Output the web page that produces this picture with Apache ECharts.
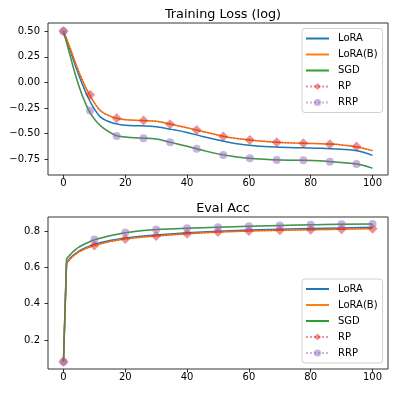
<!DOCTYPE html>
<html>
<head>
<meta charset="utf-8">
<script src="https://cdn.jsdelivr.net/npm/echarts@6/dist/echarts.min.js"></script>
<style>
  html, body { margin: 0; padding: 0; background: #fff; }
  #chart { width: 395px; height: 395px; }
</style>
</head>
<body>
<div id="chart"></div>
<script>
// training loss (log)
const lossX = [0, 2, 4, 6, 8, 10, 12, 14, 17, 20, 25, 30, 35, 40, 45, 50, 55, 60, 65, 70, 75, 80, 85, 90, 95, 100];
const lossLoRA = [0.5, 0.33, 0.15, -0.01, -0.15, -0.26, -0.34, -0.375, -0.405, -0.42, -0.425, -0.435, -0.46, -0.49, -0.53, -0.565, -0.595, -0.615, -0.628, -0.635, -0.64, -0.642, -0.648, -0.655, -0.67, -0.715];
const lossLoRAB = [0.5, 0.35, 0.18, 0.03, -0.1, -0.2, -0.28, -0.315, -0.35, -0.365, -0.373, -0.38, -0.41, -0.445, -0.48, -0.515, -0.545, -0.563, -0.577, -0.588, -0.594, -0.598, -0.603, -0.612, -0.632, -0.668];
const lossSGD = [0.5, 0.28, 0.06, -0.12, -0.265, -0.36, -0.425, -0.47, -0.52, -0.535, -0.545, -0.555, -0.59, -0.625, -0.665, -0.7, -0.725, -0.742, -0.753, -0.76, -0.762, -0.765, -0.772, -0.785, -0.8, -0.84];
// RP / RRP: dotted lines with markers at lossMarkX
const lossMarkX = [0, 8.6, 17.2, 25.9, 34.5, 43.1, 51.7, 60.3, 69, 77.6, 86.2, 94.8];
const lossMX = [0, 2, 4, 6, 8.6, 11, 14, 17.2, 21, 25.9, 30, 34.5, 38.5, 43.1, 47, 51.7, 56, 60.3, 65, 69, 73, 77.6, 82, 86.2, 90, 94.8, 100];
const lossRP = [0.5, 0.35, 0.18, 0.03, -0.121, -0.24, -0.315, -0.35, -0.367, -0.374, -0.38, -0.41, -0.435, -0.465, -0.495, -0.53, -0.55, -0.563, -0.577, -0.586, -0.592, -0.596, -0.6, -0.605, -0.612, -0.629, -0.668];
const lossRRP = [0.5, 0.28, 0.06, -0.12, -0.275, -0.395, -0.47, -0.524, -0.538, -0.547, -0.555, -0.586, -0.615, -0.651, -0.68, -0.71, -0.728, -0.742, -0.753, -0.76, -0.761, -0.762, -0.766, -0.776, -0.785, -0.8, -0.84];

// eval accuracy
const accX = [0, 1, 2, 3, 5, 7, 10, 15, 20, 25, 30, 40, 50, 60, 70, 80, 90, 100];
const accLoRA = [0.081, 0.625, 0.648, 0.665, 0.69, 0.707, 0.728, 0.748, 0.762, 0.771, 0.778, 0.79, 0.799, 0.805, 0.81, 0.814, 0.817, 0.82];
const accLoRAB = [0.081, 0.621, 0.643, 0.66, 0.685, 0.702, 0.722, 0.742, 0.757, 0.766, 0.773, 0.785, 0.794, 0.8, 0.804, 0.807, 0.81, 0.814];
const accSGD = [0.081, 0.648, 0.667, 0.685, 0.712, 0.73, 0.752, 0.774, 0.79, 0.802, 0.808, 0.815, 0.821, 0.826, 0.83, 0.834, 0.837, 0.839];
const accMarkX = [0, 10, 20, 30, 40, 50, 60, 70, 80, 90, 100];
const accRP = [0.081, 0.621, 0.643, 0.66, 0.685, 0.702, 0.72, 0.742, 0.756, 0.766, 0.773, 0.785, 0.794, 0.8, 0.804, 0.807, 0.81, 0.813];
const accRRP = [0.081, 0.648, 0.667, 0.685, 0.712, 0.73, 0.753, 0.774, 0.792, 0.802, 0.808, 0.815, 0.821, 0.826, 0.83, 0.834, 0.837, 0.839];

const xTicks = [0, 20, 40, 60, 80, 100];
const lossTicks = [-0.75, -0.5, -0.25, 0, 0.25, 0.5];
const accTicks = [0.2, 0.4, 0.6, 0.8];

const FONT = "DejaVu Sans";
const pair = (xs, ys) => xs.map((x, i) => [x, ys[i]]);
const minus = s => s.replace("-", "\u2212");
// marker only where x is in the marker list
const marked = (xs, ys, marks) => xs.map((x, i) =>
  marks.includes(x) ? [x, ys[i]] : { value: [x, ys[i]], symbol: "none" });

function xAxisCfg(idx) {
  return {
    type: "value", gridIndex: idx, min: -5, max: 105,
    axisLine: { show: false, onZero: false },
    axisTick: { show: true, length: 3.5, customValues: xTicks, lineStyle: { color: "#000", width: 0.8 } },
    axisLabel: { customValues: xTicks, color: "#000", fontSize: 10, fontFamily: FONT, margin: 3 },
    splitLine: { show: false }
  };
}
function yAxisCfg(idx, min, max, ticks, digits) {
  return {
    type: "value", gridIndex: idx, min: min, max: max,
    axisLine: { show: false, onZero: false },
    axisTick: { show: true, length: 3.5, customValues: ticks, lineStyle: { color: "#000", width: 0.8 } },
    axisLabel: {
      customValues: ticks, color: "#000", fontSize: 10, fontFamily: FONT, margin: 8,
      formatter: v => minus(v.toFixed(digits))
    },
    splitLine: { show: false }
  };
}
function lineSeries(name, idx, data, color, smooth) {
  return {
    name: name, type: "line", xAxisIndex: idx, yAxisIndex: idx,
    data: data, smooth: smooth, showSymbol: false, symbol: "none",
    lineStyle: { color: color, width: 1.5 }, itemStyle: { color: color },
    animation: false
  };
}
function markSeries(name, idx, data, color, symbol, size, smooth) {
  return {
    name: name, type: "line", xAxisIndex: idx, yAxisIndex: idx,
    data: data, smooth: smooth, symbol: symbol, symbolSize: size, showSymbol: true,
    lineStyle: { color: color, width: 1.5, type: "dotted", opacity: 0.5 },
    itemStyle: { color: color, opacity: 0.5 },
    animation: false
  };
}
function legendCfg(top) {
  // plain lines get no marker in the legend
  const noMark = { opacity: 0 };
  return {
    data: [
      { name: "LoRA", itemStyle: noMark },
      { name: "LoRA(B)", itemStyle: noMark },
      { name: "SGD", itemStyle: noMark },
      { name: "RP" },
      { name: "RRP" }
    ],
    orient: "vertical", left: 302, top: top,
    itemWidth: 23, itemHeight: 9, itemGap: 4,
    padding: [4, 5, 4, 3],
    borderColor: "#d0d0d0", borderWidth: 1, borderRadius: 3,
    backgroundColor: "rgba(255,255,255,0.8)",
    textStyle: { color: "#000", fontSize: 10, fontFamily: FONT, lineHeight: 12, padding: [0, 0, 0, 4] },
    selectedMode: false
  };
}

const chart = echarts.init(document.getElementById("chart"), null, { renderer: "canvas" });
const option = {
  backgroundColor: "#fff",
  animation: false,
  title: [
    { text: "Training Loss (log)", left: 218, top: 3, textAlign: "center",
      textStyle: { fontSize: 12.8, fontWeight: "normal", color: "#000", fontFamily: FONT } },
    { text: "Eval Acc", left: 218, top: 197, textAlign: "center",
      textStyle: { fontSize: 12.8, fontWeight: "normal", color: "#000", fontFamily: FONT } }
  ],
  grid: [
    { left: 48, top: 23, width: 340, height: 152, show: true, borderColor: "#000", borderWidth: 0.8, backgroundColor: "transparent" },
    { left: 48, top: 217, width: 340, height: 152, show: true, borderColor: "#000", borderWidth: 0.8, backgroundColor: "transparent" }
  ],
  legend: [legendCfg(28.5), legendCfg(279)],
  xAxis: [xAxisCfg(0), xAxisCfg(1)],
  yAxis: [
    yAxisCfg(0, -0.907, 0.582, lossTicks, 2),
    yAxisCfg(1, 0.041, 0.877, accTicks, 1)
  ],
  series: [
    lineSeries("LoRA", 0, pair(lossX, lossLoRA), "#1f77b4", 0.4),
    lineSeries("LoRA(B)", 0, pair(lossX, lossLoRAB), "#ff7f0e", 0.4),
    lineSeries("SGD", 0, pair(lossX, lossSGD), "#2ca02c", 0.4),
    markSeries("RP", 0, marked(lossMX, lossRP, lossMarkX), "#d62728", "diamond", 10, 0.4),
    markSeries("RRP", 0, marked(lossMX, lossRRP, lossMarkX), "#9467bd", "circle", 8, 0.4),
    lineSeries("LoRA", 1, pair(accX, accLoRA), "#1f77b4", false),
    lineSeries("LoRA(B)", 1, pair(accX, accLoRAB), "#ff7f0e", false),
    lineSeries("SGD", 1, pair(accX, accSGD), "#2ca02c", false),
    markSeries("RP", 1, marked(accX, accRP, accMarkX), "#d62728", "diamond", 10, false),
    markSeries("RRP", 1, marked(accX, accRRP, accMarkX), "#9467bd", "circle", 8, false)
  ]
};
chart.setOption(option);
</script>
</body>
</html>
